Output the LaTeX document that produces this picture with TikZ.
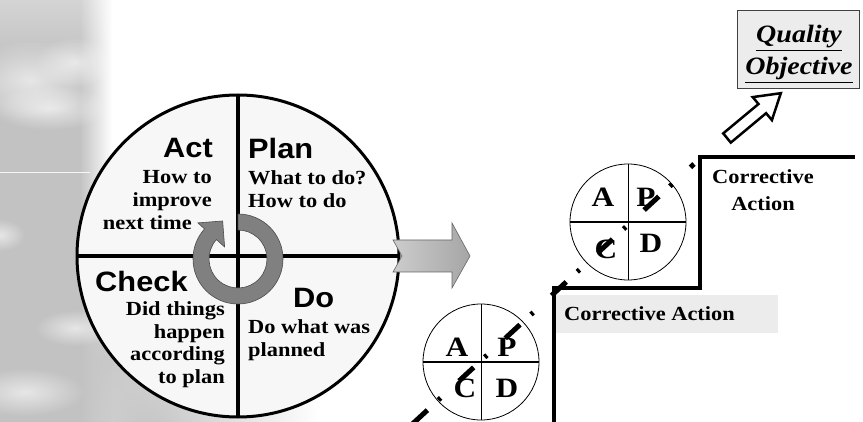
\documentclass[tikz,border=0pt]{standalone}
\usepackage{fontspec}
\setmainfont{Liberation Serif}
\newfontfamily\headfont[FakeStretch=1.1]{Liberation Sans}
\newfontfamily\bodyfont[FakeStretch=1.12]{Liberation Serif}
\usetikzlibrary{fadings}

\definecolor{bggray}{RGB}{194,194,194}
\definecolor{cyclegray}{RGB}{128,128,128}
\definecolor{panelgray}{RGB}{236,236,236}

\tikzfading[name=softpuff, inner color=transparent!0, outer color=transparent!100]

\tikzset{
  phase/.style={inner sep=0pt, font=\headfont\bfseries\fontsize{28}{30}\selectfont},
  hint/.style={inner sep=0pt, font=\bodyfont\bfseries\fontsize{20}{23}\selectfont},
  letter/.style={inner sep=0pt, font=\bodyfont\bfseries\fontsize{28}{28}\selectfont},
  cloudpuff/.style={white, opacity=0.6, path fading=softpuff},
}

\begin{document}
\begin{tikzpicture}[x=1pt, y=-1pt]
    \useasboundingbox (0,0) rectangle (863,422);

    % grey sky on the left
    \fill[bggray] (0,0) rectangle (80,422);
    \shade[left color=bggray, right color=white] (80,0) rectangle (112,422);
    \fill[bggray, path fading=softpuff] (150,440) ellipse (170 and 170);
    \fill[bggray, opacity=0.8, path fading=softpuff] (110,360) ellipse (90 and 100);
    \fill[white, opacity=0.3, path fading=south] (0,0) rectangle (110,60);
    \fill[cloudpuff] (30,80) ellipse (65 and 40);
    \fill[cloudpuff] (75,62) ellipse (40 and 25);
    \fill[cloudpuff] (50,108) ellipse (60 and 22);
    \fill[cloudpuff] (0,235) ellipse (25 and 16);
    \fill[cloudpuff] (75,328) ellipse (40 and 18);
    \fill[cloudpuff] (25,392) ellipse (60 and 24);
    \draw[white!85!bggray, line width=0.6pt] (0,172) -- (90,172);

    % the big PDCA wheel
    \coordinate (hub) at (238,256);
    \coordinate (ring) at (238,259);
    \fill[white!97!black] (hub) circle (161);
    \draw[line width=4.5pt] (hub) ++(0,-161) -- ++(0,322);
    \draw[line width=4.5pt] (hub) ++(-161,0) -- ++(322,0);

    % turning arrow in the middle
    \fill[cyclegray, draw=black!70, line width=0.6pt]
        ([shift={(-90:45)}]ring) arc[start angle=-90, end angle=222, radius=45]
        -- ([shift={(222:54)}]ring) -- ([shift={(248:41)}]ring)
        -- ([shift={(222:18)}]ring) -- ([shift={(222:29)}]ring)
        arc[start angle=222, end angle=-90, radius=29] -- cycle;

    % quarter labels (multi-line nodes sit on their last line)
    \node[phase, anchor=base east] (act) at (213,158) {Act};
    \node[hint, anchor=base east, align=right] (acthint) at (212,230) {How to\\improve\\next time\hspace*{20pt}};
    \node[phase, anchor=base west] (plan) at (248,159) {Plan};
    \node[hint, anchor=base west, align=left] (planhint) at (248,208) {What to do?\\How to do};
    \node[phase, anchor=base west] (check) at (95,292) {Check};
    \node[hint, anchor=base east, align=right] (checkhint) at (225,384) {Did things\\happen\\according\\to plan};
    \node[phase, anchor=base west] (do) at (293,308) {Do};
    \node[hint, anchor=base west, align=left] (dohint) at (248,356) {Do what was\\planned};

    \draw[line width=3pt] (hub) circle (161);

    % grey arrow out of the wheel
    \path[left color=gray!40, right color=gray!70, draw=black!60, line width=0.6pt]
        (393,240) -- (452,240) -- (452,223) -- (470,256) -- (452,288)
        -- (452,272) -- (393,272) -- (402,256) -- cycle;

    % small wheels
    \node[circle, draw, line width=0.8pt, fill=white, minimum size=116pt, inner sep=0pt] (lowwheel) at (481,362) {};
    \draw[line width=1.8pt] (lowwheel.west) -- (lowwheel.east);
    \draw[line width=1pt] (lowwheel.north) -- (lowwheel.south);
    \node[letter] (lowa) at (457,347) {A};
    \node[letter] (lowp) at (507,347) {P};
    \node[letter] (lowc) at (465,388) {C};
    \node[letter] (lowd) at (507,388) {D};

    \node[circle, draw, line width=0.8pt, fill=white, minimum size=116pt, inner sep=0pt] (topwheel) at (628,222) {};
    \draw[line width=1.8pt] (topwheel.west) -- (topwheel.east);
    \draw[line width=1pt] (topwheel.north) -- (topwheel.south);
    \node[letter] (topa) at (603,197) {A};
    \node[letter] (topp) at (646,197) {P};
    \node[letter] (topc) at (606,249) {C};
    \node[letter] (topd) at (651,243) {D};

    % steps
    \fill[panelgray] (553,295) rectangle (778,333);
    \node[hint, anchor=base west] (lowfix) at (564,321) {Corrective Action};
    \node[hint, anchor=base, align=center, font=\bodyfont\bfseries\fontsize{20}{27}\selectfont] (upfix) at (763,211) {Corrective\\Action};
    \draw[line width=4pt] (554,424) -- (554,288) -- (700,288) -- (700,157) -- (855,157);

    % goal box and hollow arrow
    \node[draw=black!75, line width=1.5pt, fill=panelgray, minimum width=122pt, minimum height=78pt] (goal) at (798.5,49.5) {};
    \node[anchor=base, align=center, inner sep=0pt, font=\bodyfont\bfseries\itshape\fontsize{25}{32}\selectfont] (goaltext) at (799,75)
          {\underline{Quality}\\\underline{Objective}};
    \draw[fill=white, line width=2.5pt, line join=miter]
        (723.2,133.4) -- (758.5,104.0) -- (752.7,97.1) -- (780.8,93.2)
        -- (771.9,120.1) -- (766.1,113.2) -- (730.8,142.6) -- cycle;

    % trend line
    \coordinate (trendstart) at (412.7,423.7);
    \coordinate (trendend) at (694,164);
    \draw[line width=5pt, dash pattern=on 20pt off 15pt on 3pt off 25pt] (trendstart) -- (trendend);
\end{tikzpicture}
\end{document}
